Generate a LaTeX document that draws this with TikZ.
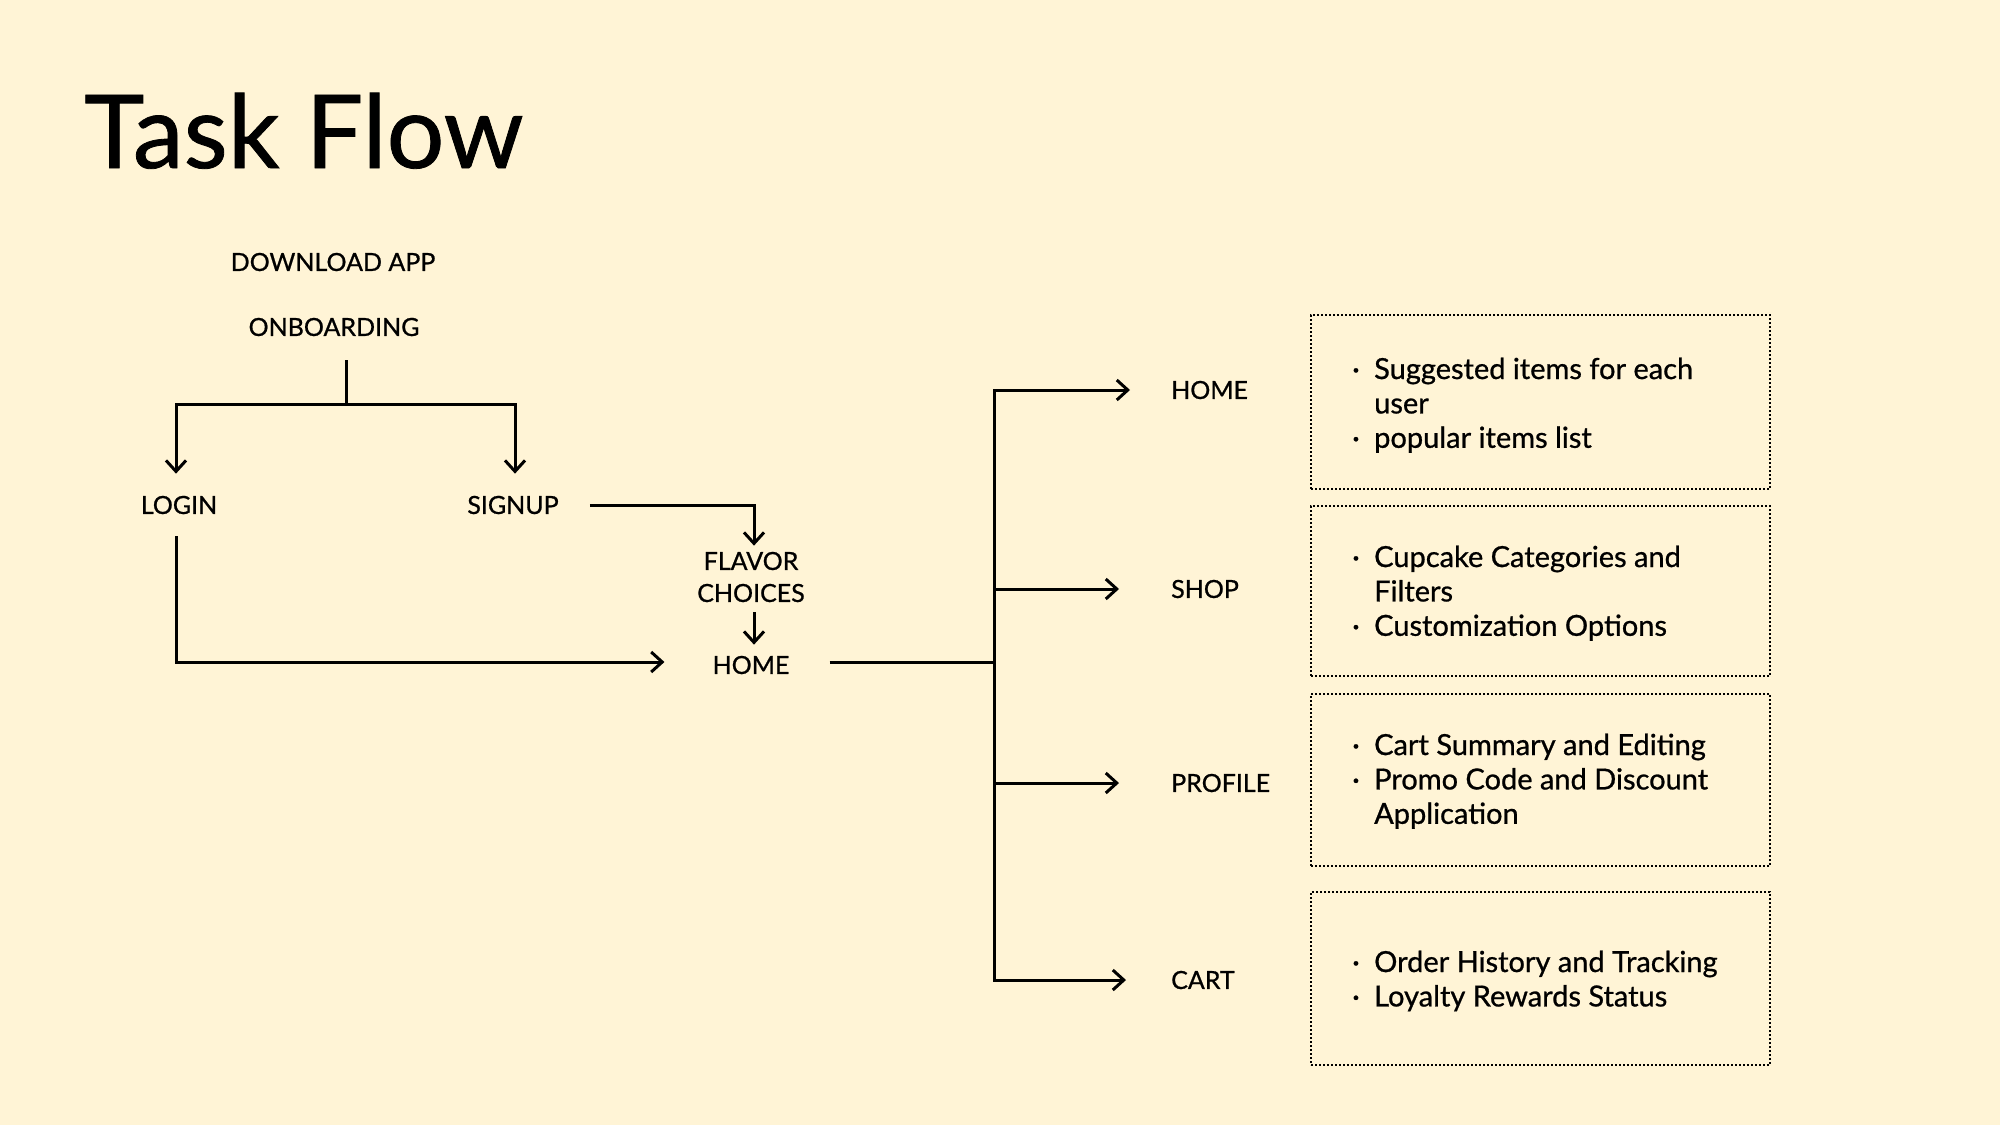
\documentclass[tikz,border=0pt]{standalone}
\usepackage{fontspec}
\setmainfont{Lato}[FakeBold=0.8]
\usetikzlibrary{arrows.meta}
\definecolor{bg}{HTML}{FFF4D6}
\begin{document}
\begin{tikzpicture}[x=1pt,y=-1pt,
  ln/.style={line width=3pt},
  arr/.style={line width=3pt,-{Straight Barb[length=11pt,width=20pt]}},
  lbl/.style={inner sep=0pt,font=\fontsize{25}{32}\selectfont},
  rlbl/.style={lbl,anchor=west},
  infobox/.style={draw,line width=1.2pt,dash pattern=on 2pt off 2pt,minimum width=459pt,inner sep=0pt},
  btxt/.style={inner sep=0pt,anchor=base west,font=\fontsize{29}{34.4}\selectfont}]
\fill[bg] (0,0) rectangle (2000,1125);
\useasboundingbox (0,0) rectangle (2000,1125);

\node[anchor=base west,inner sep=0pt,font=\fontsize{102}{120}\selectfont] (title) at (84,168) {Task Flow};

\node[lbl] (dl) at (333,262) {DOWNLOAD APP};
\node[lbl] (onb) at (334,327) {ONBOARDING};
\node[lbl] (login) at (179,505) {LOGIN};
\node[lbl] (signup) at (513,505) {SIGNUP};
\node[lbl,align=center,font=\fontsize{25}{32}\selectfont] (flavor) at (751,577) {FLAVOR\\CHOICES};
\node[lbl] (home) at (751,665) {HOME};

\node[rlbl] (h2) at (1171,390) {HOME};
\node[rlbl] (shop) at (1171,589) {SHOP};
\node[rlbl] (profile) at (1171,783) {PROFILE};
\node[rlbl] (cart) at (1171,980) {CART};

\coordinate (split) at (346,404);
\coordinate (hub) at (994,662);

\draw[ln] ([xshift=12pt,yshift=-24pt]onb.south) -- (split);
\draw[arr] (split) -| ([xshift=-3pt,yshift=22pt]login.north);
\draw[arr] (split) -| ([xshift=2pt,yshift=22pt]signup.north);
\draw[arr] ([xshift=31pt]signup.east) -| ([xshift=3pt,yshift=6pt]flavor.north);
\draw[arr] ([xshift=3pt,yshift=-10pt]flavor.south) -- ([xshift=3pt,yshift=11pt]home.north);
\draw[arr] ([xshift=-3pt,yshift=-22pt]login.south) |- ([xshift=-48pt,yshift=3pt]home.west);
\draw[ln] ([xshift=40pt,yshift=3pt]home.east) -- (hub);
\draw[arr] (hub) |- ([xshift=-41pt]h2.west);
\draw[arr] (hub) |- ([xshift=-52pt]shop.west);
\draw[arr] (hub) |- ([xshift=-52pt]profile.west);
\draw[arr] (hub) |- ([xshift=-45pt]cart.west);

\node[infobox,minimum height=174pt] (b1) at (1540.5,402) {};
\node[infobox,minimum height=170pt] (b2) at (1540.5,591) {};
\node[infobox,minimum height=172pt] (b3) at (1540.5,780) {};
\node[infobox,minimum height=173pt] (b4) at (1540.5,978.5) {};

\node[btxt] (t1) at (1352,379) {\begin{tabular}[t]{@{}p{22pt}@{}l@{}}·&Suggested items for each\\&user\\·&popular items list\end{tabular}};
\node[btxt] (t2) at (1352,567) {\begin{tabular}[t]{@{}p{22pt}@{}l@{}}·&Cupcake Categories and\\&Filters\\·&Customization Options\end{tabular}};
\node[btxt] (t3) at (1352,755) {\begin{tabular}[t]{@{}p{22pt}@{}l@{}}·&Cart Summary and Editing\\·&Promo Code and Discount\\&Application\end{tabular}};
\node[btxt] (t4) at (1352,972) {\begin{tabular}[t]{@{}p{22pt}@{}l@{}}·&Order History and Tracking\\·&Loyalty Rewards Status\end{tabular}};
\end{tikzpicture}
\end{document}
